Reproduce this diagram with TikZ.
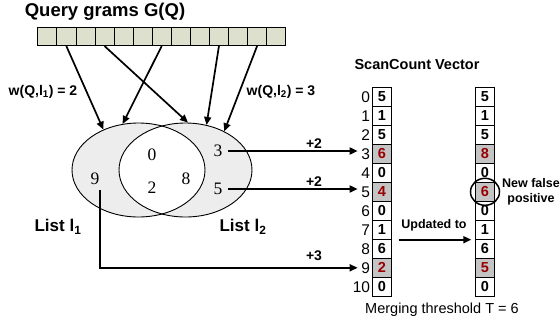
\documentclass[tikz,border=0pt]{standalone}
\usepackage{fontspec}
\setmainfont{Liberation Sans}
\newfontfamily\serifnum{Liberation Serif}
\usetikzlibrary{shapes.geometric,arrows.meta,calc}
\definecolor{gramfill}{HTML}{DDE0CC}
\definecolor{hitgray}{HTML}{C4C4C4}
\definecolor{hitred}{HTML}{990000}
\definecolor{setfill}{HTML}{EDEDED}
\begin{document}
\begin{tikzpicture}[x=1pt,y=-1pt,
  conn/.style={line width=1.7pt,-{Triangle[length=8pt,width=7pt]}},
  gram/.style={draw,fill=gramfill,minimum width=19.08pt,minimum height=18pt,inner sep=0pt,line width=0.6pt},
  vcell/.style={draw,minimum width=18.6pt,minimum height=19pt,inner sep=0pt,line width=0.8pt,
                font=\fontsize{14.5}{14.5}\selectfont\bfseries},
  hit/.style={vcell,fill=hitgray,text=hitred},
  idx/.style={anchor=east,inner sep=0.5pt,font=\fontsize{15.5}{15.5}\selectfont},
  setnum/.style={inner sep=1pt,font=\fontsize{17.5}{17.5}\serifnum},
  lbl/.style={inner sep=0pt,font=\fontsize{14}{14}\selectfont\bfseries},
  sets/.style={draw,ellipse,minimum width=133pt,minimum height=94pt,inner sep=0pt,line width=0.9pt}]
\useasboundingbox (0,0) rectangle (560,325);

% query grams
\node[inner sep=0pt,font=\fontsize{18.5}{18.5}\selectfont\bfseries] (qtitle) at (105,12) {Query grams G(Q)};
\foreach \i in {1,...,13}
  \node[gram] (g\i) at ({37.7+19.08*(\i-0.5)},36.7) {};

% the two inverted lists
\fill[setfill] (138.5,170) ellipse [x radius=66.5, y radius=47];
\fill[setfill] (185.5,170) ellipse [x radius=66.5, y radius=47];
\begin{scope}
  \clip (138.5,170) ellipse [x radius=66.5, y radius=47];
  \fill[white] (185.5,170) ellipse [x radius=66.5, y radius=47];
\end{scope}
\node[sets] (E1) at (138.5,170) {};
\node[sets] (E2) at (185.5,170) {};

\node[setnum] (n0) at (152,155) {0};
\node[setnum] (n2) at (152,188) {2};
\node[setnum] (n8) at (186,179) {8};
\node[setnum] (n9) at (95,179) {9};
\node[setnum] (n3) at (218,151) {3};
\node[setnum] (n5) at (218,189) {5};

\node[lbl,font=\fontsize{17}{17}\selectfont\bfseries] (list1) at (58,227) {List l\textsubscript{1}};
\node[lbl,font=\fontsize{17}{17}\selectfont\bfseries] (list2) at (243,227) {List l\textsubscript{2}};

% gram-to-list arrows
\draw[conn] (g2.south) -- (E1.131);
\draw[conn] (g7.south) -- (E1.109);
\draw[conn] (g4.south) -- (E2.87);
\draw[conn] (g10.south) -- (E2.65);
\draw[conn] (g12.south) -- (E2.45);

\node[lbl] (w1) at (43,92) {w(Q,l\textsubscript{1}) = 2};
\node[lbl] (w2) at (281,92) {w(Q,l\textsubscript{2}) = 3};

% ScanCount vectors
\node[lbl,font=\fontsize{14.5}{14.5}\selectfont\bfseries] (sctitle) at (417,65) {ScanCount Vector};
\foreach \v [count=\i from 0] in {5,1,5,6,0,4,0,1,6,2,0} {
  \ifnum\i=3 \def\sty{hit}\else\ifnum\i=5 \def\sty{hit}\else\ifnum\i=9 \def\sty{hit}\else\def\sty{vcell}\fi\fi\fi
  \node[\sty] (L\i) at (381.9,{96.8+19*\i}) {\v};
  \node[idx] (I\i) at ($(L\i.west)+(-1.5,0)$) {\i};
}
\foreach \v [count=\i from 0] in {5,1,5,8,0,6,0,1,6,5,0} {
  \ifnum\i=3 \def\sty{hit}\else\ifnum\i=5 \def\sty{hit}\else\ifnum\i=9 \def\sty{hit}\else\def\sty{vcell}\fi\fi\fi
  \node[\sty] (R\i) at (485,{96.8+19*\i}) {\v};
}

% increments into the vector
\draw[conn,shorten <=4pt,shorten >=3pt] (n3.east) -- (n3.east -| I3.west);
\draw[conn,shorten <=4pt,shorten >=3pt] (n5.east) -- (n5.east -| I5.west);
\coordinate (c9) at ($(n9.south)+(5,4)$);
\draw[conn,shorten >=3pt] (c9) |- (I9.west);
\node[lbl] (p3) at (314,144) {+2};
\node[lbl] (p5) at (314,182) {+2};
\node[lbl] (p9) at (314,256) {+3};

% update step
\draw[conn] ($(L7.south east)+(7,0)$) -- ($(R7.south west)+(-4,0)$);
\node[lbl,font=\fontsize{12.5}{12.5}\selectfont\bfseries] (upd) at (434,225) {Updated to};

\node[draw,ellipse,line width=1.5pt,minimum width=29pt,minimum height=27pt,inner sep=0pt] (fp) at (R5) {};
\node[lbl,align=center,font=\fontsize{12.5}{15}\selectfont\bfseries] (fptext) at (531,192) {New false\\positive};

\node[inner sep=0pt,font=\fontsize{14.5}{14.5}\selectfont] (thr) at (442,310) {Merging threshold T = 6};
\end{tikzpicture}
\end{document}
